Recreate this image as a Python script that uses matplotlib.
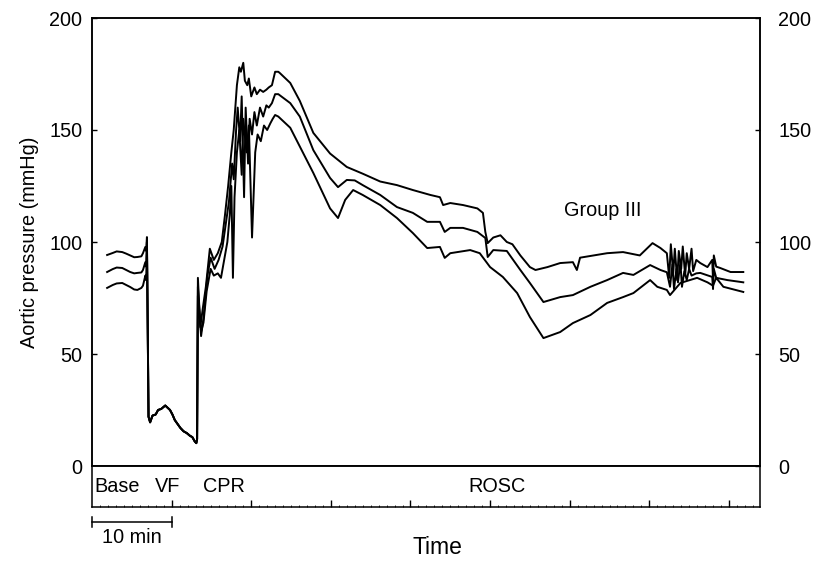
import matplotlib.pyplot as plt

plt.rcParams['font.family'] = ['Liberation Sans', 'DejaVu Sans']
plt.rcParams['font.size'] = 14.3

# time in minutes, aortic pressure in mmHg
base_t = [1.9, 2.6, 3.1, 3.8, 4.3, 4.8, 5.3, 5.7, 6.2, 6.4, 6.7, 6.8, 6.9]
base_top = [94.2, 95.1, 95.8, 95.5, 94.8, 94.0, 93.2, 93.3, 93.6, 95.0, 97.8, 96.0, 102.2]
base_mid = [86.6, 87.9, 88.6, 88.4, 87.5, 86.6, 86.0, 86.2, 86.4, 87.5, 91.0, 89.0, 100.0]
base_bot = [79.5, 80.8, 81.5, 81.7, 80.8, 79.9, 78.8, 78.6, 79.5, 80.5, 85.0, 83.0, 98.0]

vf_t = [7.1, 7.3, 7.6, 8.0, 8.3, 8.7, 9.2, 9.5, 9.8, 10.1, 10.4, 10.8, 11.1,
        11.5, 11.9, 12.3, 12.6, 12.9, 13.1, 13.2]
vf_p = [22, 19.5, 22.5, 23, 25, 25.5, 27, 26, 25, 23, 20.5, 18.5, 17,
        15.5, 14.7, 13.5, 12.9, 11, 10.2, 12]

top_t = [13.3, 13.6, 13.9, 14.3, 14.8, 15.3, 15.8, 16.3, 16.7, 17.1, 17.5, 17.8,
         18.2, 18.5, 18.7, 19.0, 19.2, 19.5, 19.7, 20.0, 20.4, 20.7, 21.1, 21.5,
         21.9, 22.2, 22.6, 23.0, 23.4, 23.6, 24.9, 26.1, 27.8, 29.9, 32.0, 34.0,
         36.2, 38.3, 40.3, 42.5, 43.7, 44.1, 45.0, 46.6, 48.4, 49.1, 49.4, 49.7,
         50.4, 51.3, 52.1, 52.8, 53.8, 55.0, 55.7, 57.2, 58.8, 60.4, 60.9, 61.3,
         64.7, 66.7, 68.8, 70.4, 71.4, 72.2, 72.5, 72.7, 73.0, 73.2, 73.5, 73.7,
         74.0, 74.2, 74.5, 74.7, 75.0, 75.3, 75.5, 75.9, 76.4, 77.3, 77.9, 78.0,
         78.1, 78.4, 78.9, 80.2, 81.8]
top_p = [84, 62, 70, 80, 97, 92, 95, 100, 112, 125, 140, 150,
         170, 178, 176, 180, 172, 170, 173, 165, 169, 166, 168, 167,
         168, 169, 170, 176, 176, 175.4, 171, 163, 148.7, 139.5, 133.5, 130.5,
         127, 125.4, 123.2, 121, 120, 116.5, 117.4, 116.5, 115, 113, 104.5, 99.5,
         102, 103, 100, 99, 94, 88.8, 87.5, 88.8, 90.6, 91, 87.5, 93,
         95, 95.5, 94, 99.5, 97.3, 95, 84, 99, 86, 97, 83, 96,
         88, 98, 85, 95, 88, 97, 87, 92, 90.6, 88.8, 92, 83,
         94, 89, 88.4, 86.6, 86.6]

mid_t = [13.3, 13.7, 14.0, 14.5, 14.9, 15.4, 15.9, 16.4, 16.8, 17.2, 17.6, 17.8,
         18.1, 18.3, 18.6, 18.8, 19.1, 19.3, 19.6, 19.8, 20.1, 20.4, 20.7, 21.1,
         21.5, 21.9, 22.2, 22.6, 23.0, 23.4, 24.9, 26.1, 27.8, 29.9, 30.9, 32.0,
         33.0, 34.0, 36.2, 38.3, 40.3, 42.1, 43.7, 44.3, 45.0, 46.6, 48.4, 49.4,
         49.7, 50.4, 52.1, 53.8, 55.0, 56.7, 58.8, 60.4, 62.6, 64.7, 66.7, 68.0,
         70.1, 71.4, 72.2, 72.6, 72.9, 73.1, 73.4, 73.6, 73.9, 74.1, 74.4, 74.7,
         75.0, 75.3, 75.9, 76.4, 77.9, 78.0, 78.1, 78.4, 79.8, 81.8]
mid_p = [80, 58, 66, 85, 93, 88, 92, 98, 108, 118, 135, 128,
         150, 160, 145, 165, 120, 160, 135, 155, 148, 158, 152, 160,
         156, 161, 160, 162, 166, 166, 162, 156, 141, 128.6, 124.5, 127.7,
         127.5, 125.4, 121, 115.6, 113, 109, 109, 104.5, 106.3, 106.3, 104.5, 101.8,
         93.3, 96.4, 96, 87.5, 81.7, 73.2, 75.4, 76.3, 80, 83, 86.2, 85.3,
         89.7, 87.5, 86.5, 80, 90, 79, 88, 82, 91, 80, 87, 83,
         88, 85, 86, 86.2, 84.4, 79, 88, 84, 83, 82]

bot_t = [13.3, 13.7, 14.0, 14.4, 14.9, 15.3, 15.8, 16.2, 16.6, 17.0, 17.3, 17.5,
         17.7, 17.9, 18.2, 18.5, 18.8, 19.0, 19.4, 19.7, 20.1, 20.5, 20.8, 21.2,
         21.6, 22.0, 22.4, 22.7, 23.0, 23.4, 24.9, 27.8, 29.9, 30.9, 31.8, 32.8,
         34.0, 36.2, 38.3, 40.3, 42.1, 43.7, 44.3, 45.0, 47.5, 48.7, 50.0, 51.6,
         53.4, 55.0, 56.7, 58.8, 60.4, 62.6, 64.7, 66.7, 68.0, 70.1, 71.0, 72.2,
         72.6, 73.9, 76.0, 77.3, 78.0, 78.4, 79.3, 81.8]
bot_p = [76, 60, 64, 78, 88, 85, 86, 84, 92, 100, 112, 125,
         84, 120, 140, 150, 130, 155, 140, 152, 102, 140, 148, 145,
         152, 150, 153, 155, 156.7, 156, 151, 130.8, 115, 110.7, 118.8, 123.2,
         121, 116.5, 110.7, 104, 97.3, 97.8, 92.9, 95, 96.4, 95, 88.8, 84.4,
         77.2, 66.5, 57.1, 59.8, 63.8, 67.4, 72.8, 75.4, 77.2, 83, 80, 78.6,
         76.3, 81.7, 84, 82, 80.5, 84, 80, 77.7]

phases = ['Base', 'VF', 'CPR', 'ROSC']
phase_mid = [3.1, 9.5, 16.6, 50.9]
yticks = [0, 50, 100, 150, 200]
xticks = [10, 20, 30, 40, 50, 60, 70, 80]

fig = plt.figure(figsize=(8.16, 5.61), dpi=100)
ax = fig.add_axes([92 / 816, 1 - 466 / 561, 668 / 816, 448 / 561])
band = fig.add_axes([92 / 816, 1 - 507 / 561, 668 / 816, 41 / 561], sharex=ax)

for bt, bp, ct, cp in [(base_t, base_top, top_t, top_p),
                       (base_t, base_mid, mid_t, mid_p),
                       (base_t, base_bot, bot_t, bot_p)]:
    ax.plot(bt + vf_t + ct, bp + vf_p + cp, color='black', lw=1.4)

ax.set_xlim(0, 83.9)
ax.set_ylim(0, 200)
ax.set_yticks(yticks)
ax.tick_params(axis='y', direction='in', length=3.6, width=1, left=True, right=True,
               labelleft=True, labelright=False, pad=7)
ax.tick_params(axis='x', bottom=False, labelbottom=False)
for s in ax.spines.values():
    s.set_linewidth(1.1)
ax2 = ax.twinx()
ax2.set_ylim(0, 200)
ax2.set_yticks(yticks)
ax2.tick_params(axis='y', direction='in', length=3.6, width=1, pad=13)
for s in ax2.spines.values():
    s.set_linewidth(1.1)

ax.text(64.2, 114, 'Group III', ha='center', va='center')

band.set_yticks([])
band.set_xticks(xticks)
band.set_xticks(range(1, 84), minor=True)
band.tick_params(axis='x', which='major', direction='in', length=5, width=1, labelbottom=False)
band.tick_params(axis='x', which='minor', direction='in', length=1.2, width=0.6)
for s in band.spines.values():
    s.set_linewidth(1.1)
for name, xm in zip(phases, phase_mid):
    band.text(xm, 0.5, name, ha='center', va='center',
              transform=band.get_xaxis_transform())

tr = band.get_xaxis_transform()
band.plot([0, 10], [-0.37, -0.37], color='black', lw=1.1, transform=tr, clip_on=False)
band.plot([0, 0], [-0.49, -0.25], color='black', lw=1.1, transform=tr, clip_on=False)
band.plot([10, 10], [-0.49, -0.25], color='black', lw=1.1, transform=tr, clip_on=False)
band.text(5.0, -0.75, '10 min', ha='center', va='center', transform=tr)

fig.text(437 / 816, 1 - 548 / 561, 'Time', ha='center', va='center', fontsize=16.5)
fig.text(30 / 816, 1 - 242 / 561, 'Aortic pressure (mmHg)', rotation=90,
         ha='center', va='center')

fig.savefig('out.png', dpi=100)
